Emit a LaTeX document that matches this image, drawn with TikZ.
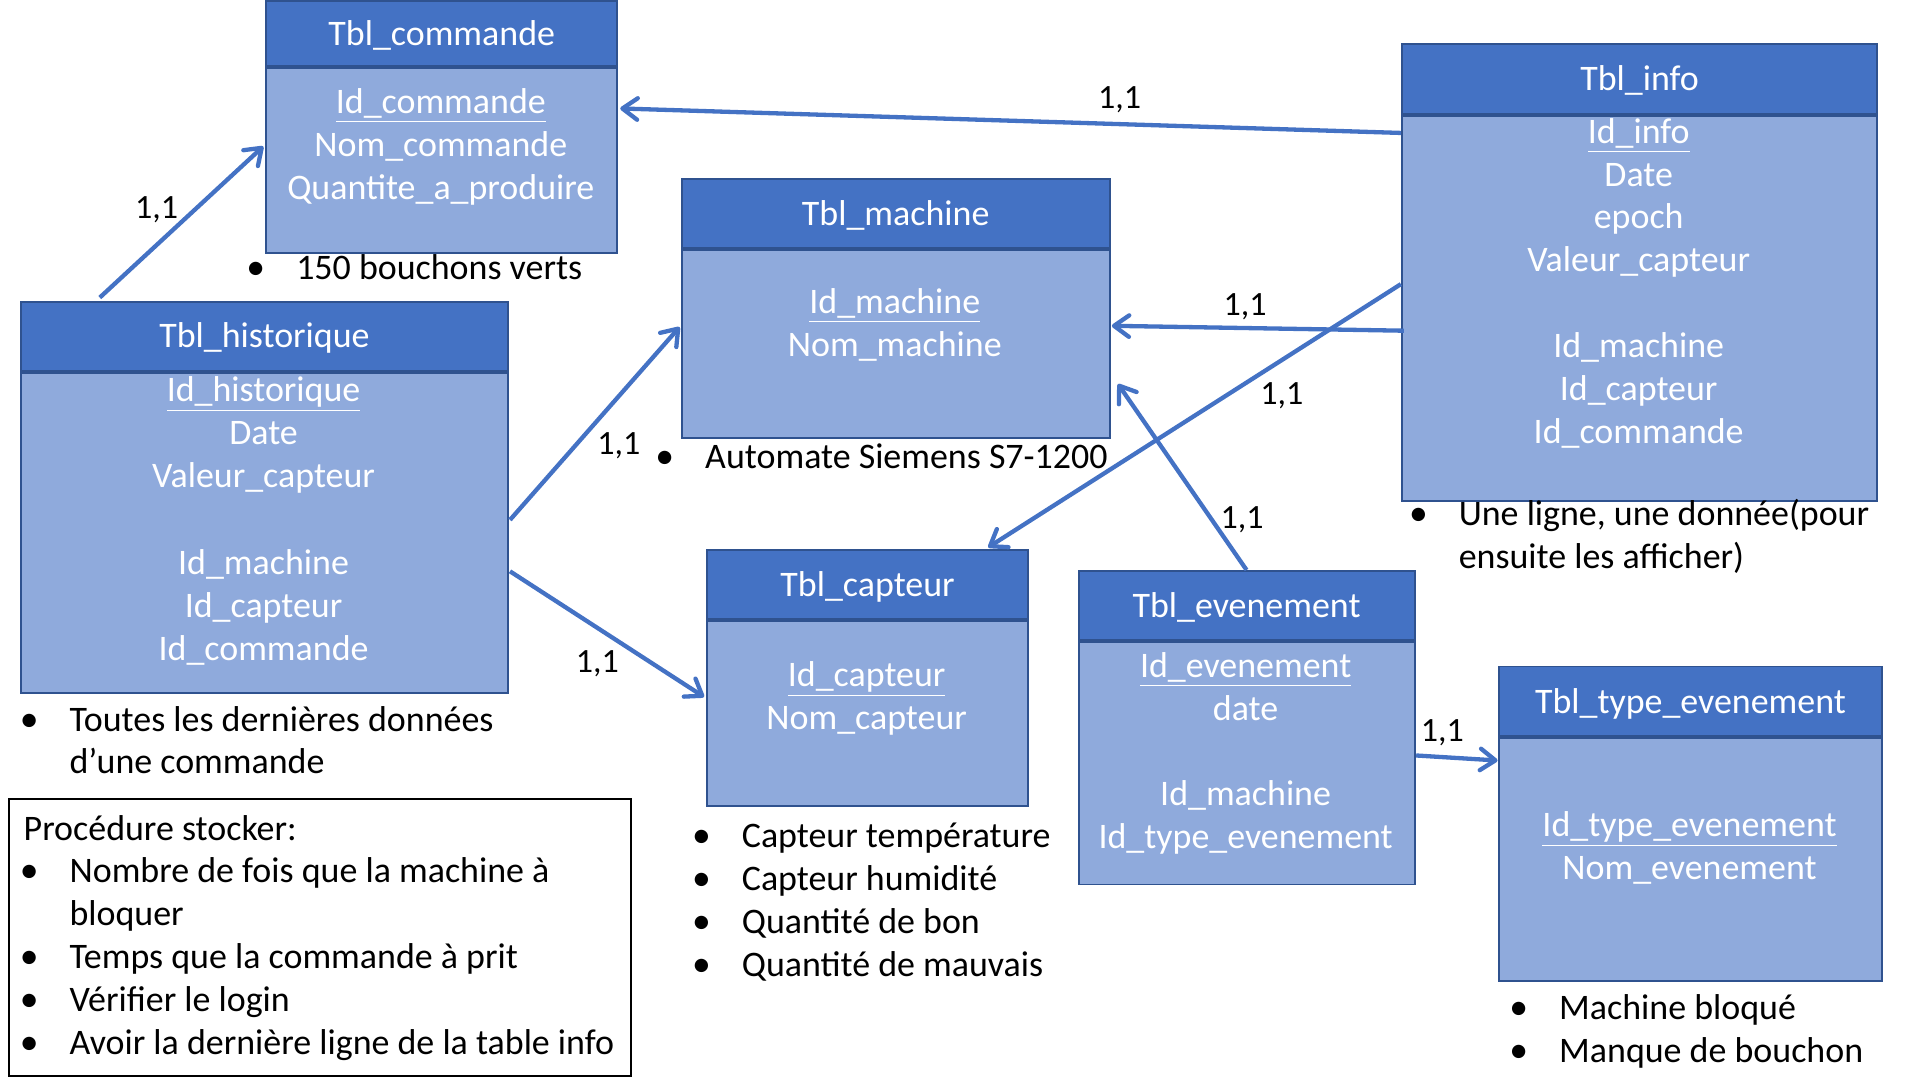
\documentclass[tikz,border=0pt]{standalone}
\usepackage{fontspec}
\setmainfont{Carlito}
\usetikzlibrary{arrows.meta,calc}

\definecolor{hdrblue}{HTML}{4472C4}
\definecolor{bodyblue}{HTML}{8FAADC}
\definecolor{edgeblue}{HTML}{2F528F}

\newcommand{\bul}{\makebox[0pt]{\fontsize{17.5}{19.9}\selectfont •}\hspace{0.66cm}}
\newcommand{\ind}{\hspace{0.66cm}}

\begin{document}
\begin{tikzpicture}[x=0.02cm, y=-0.02cm,
    every node/.style={inner sep=0pt, font=\fontsize{16.7}{19.9}\selectfont},
    hdr/.style={draw=edgeblue, fill=hdrblue, line width=0.9pt, text=white, anchor=north west,
        text height=12.4pt, text depth=1.5pt},
    tbl/.style={draw=edgeblue, fill=bodyblue, line width=0.9pt, anchor=north},
    row/.style={text=white, anchor=base},
    note/.style={anchor=base west},
    card/.style={anchor=base west, font=\fontsize{15.8}{19}\selectfont},
    link/.style={draw=hdrblue, line width=2pt, -{Straight Barb[length=7pt, width=10pt, round]}}]

  \useasboundingbox (0,0) rectangle (1568,882);

  % tables
  \node[hdr, minimum width=5.74cm, minimum height=1.06cm] (commande-h) at (216.5,0) {Tbl\_commande};
  \node[tbl, minimum width=5.74cm, minimum height=3.02cm] (commande) at (commande-h.south) {};
  \foreach \y/\t [count=\i] in {93/{\underline{Id\_commande}}, 128/Nom\_commande, 163/Quantite\_a\_produire}
    \node[row] (commande-\i) at (360,\y) {\t};

  \node[hdr, minimum width=7.95cm, minimum height=1.13cm] (hist-h) at (16.5,245.5) {Tbl\_historique};
  \node[tbl, minimum width=7.95cm, minimum height=5.23cm] (hist) at (hist-h.south) {};
  \foreach \y/\t [count=\i] in {328/{\underline{Id\_historique}}, 363/Date, 398/Valeur\_capteur,
      469/Id\_machine, 504/Id\_capteur, 539/Id\_commande}
    \node[row] (hist-\i) at (215.25,\y) {\t};

  \node[hdr, minimum width=6.99cm, minimum height=1.12cm] (machine-h) at (556,145.5) {Tbl\_machine};
  \node[tbl, minimum width=6.99cm, minimum height=3.08cm] (machine) at (machine-h.south) {};
  \foreach \y/\t [count=\i] in {256/{\underline{Id\_machine}}, 291/Nom\_machine}
    \node[row] (machine-\i) at (730.75,\y) {\t};

  \node[hdr, minimum width=7.77cm, minimum height=1.14cm] (info-h) at (1144,35) {Tbl\_info};
  \node[tbl, minimum width=7.77cm, minimum height=6.29cm] (info) at (info-h.south) {};
  \foreach \y/\t [count=\i] in {117/{\underline{Id\_info}}, 152/Date, 187/epoch, 222/Valeur\_capteur,
      292/Id\_machine, 327/Id\_capteur, 362/Id\_commande}
    \node[row] (info-\i) at (1338.25,\y) {\t};

  \node[hdr, minimum width=5.25cm, minimum height=1.14cm] (capteur-h) at (576.5,448) {Tbl\_capteur};
  \node[tbl, minimum width=5.25cm, minimum height=3.02cm] (capteur) at (capteur-h.south) {};
  \foreach \y/\t [count=\i] in {560.5/{\underline{Id\_capteur}}, 595.7/Nom\_capteur}
    \node[row] (capteur-\i) at (707.75,\y) {\t};

  \node[hdr, minimum width=5.49cm, minimum height=1.13cm] (evenement-h) at (880,465.5) {Tbl\_evenement};
  \node[tbl, minimum width=5.49cm, minimum height=3.96cm] (evenement) at (evenement-h.south) {};
  \foreach \y/\t [count=\i] in {553/{\underline{Id\_evenement}}, 588/date, 658/Id\_machine, 693/Id\_type\_evenement}
    \node[row] (evenement-\i) at (1017.25,\y) {\t};

  \node[hdr, minimum width=6.27cm, minimum height=1.14cm] (type-h) at (1223,543.5) {Tbl\_type\_evenement};
  \node[tbl, minimum width=6.27cm, minimum height=3.96cm] (type) at (type-h.south) {};
  \foreach \y/\t [count=\i] in {683/{\underline{Id\_type\_evenement}}, 718/Nom\_evenement}
    \node[row] (type-\i) at (1379.75,\y) {\t};

  % remarques
  \node[note] (commande-n) at (208.6,228) {\bul 150 bouchons verts};
  \node[note] (hist-n) at (23.5,597) {\begin{tabular}[t]{@{}l@{}}\bul Toutes les dernières données\\ \ind d’une commande\end{tabular}};
  \node[note] (machine-n) at (542.6,383) {\bul Automate Siemens S7-1200};
  \node[note] (info-n) at (1158,429.5) {\begin{tabular}[t]{@{}l@{}}\bul Une ligne, une donnée(pour\\ \ind ensuite les afficher)\end{tabular}};
  \node[note] (capteur-n) at (572.5,692.5) {\begin{tabular}[t]{@{}l@{}}\bul Capteur température\\ \bul Capteur humidité\\
      \bul Quantité de bon\\ \bul Quantité de mauvais\end{tabular}};
  \node[note] (type-n) at (1240,832.5) {\begin{tabular}[t]{@{}l@{}}\bul Machine bloqué\\ \bul Manque de bouchon\end{tabular}};

  \node[draw, line width=0.9pt, minimum width=10.17cm, minimum height=4.52cm, anchor=north west] (proc) at (6.5,652) {};
  \node[note] (proc-t) at (19,686) {Procédure stocker:};
  \node[note] (proc-l) at (23.5,721) {\begin{tabular}[t]{@{}l@{}}\bul Nombre de fois que la machine à\\ \ind bloquer\\
      \bul Temps que la commande à prit\\ \bul Vérifier le login\\ \bul Avoir la dernière ligne de la table info\end{tabular}};

  % liens
  \draw[link] ($(hist-h.north west)+(65,-2.5)$) -- ($(commande.north west)+(-1.5,65)$);
  \draw[link] ($(info.north west)+(0,15)$) -- ($(commande.north east)+(1.5,34)$);
  \draw[link] ($(info.north west)+(2.5,176.5)$) -- ($(machine.north east)+(1,63)$);
  \draw[link] ($(info.north west)+(0,138.5)$) -- ($(capteur-h.north west)+(230.5,-1)$);
  \draw[link] (evenement-h.north) -- ($(machine.north east)+(6,110.5)$);
  \draw[link] ($(hist.north east)+(1,121)$) -- ($(machine.north west)+(-1,64)$);
  \draw[link] ($(hist.north east)+(1,163)$) -- ($(capteur.north west)+(-1.5,62.6)$);
  \draw[link] ($(evenement.north east)+(0.5,93.4)$) -- ($(type.north west)+(0,19)$);

  \node[card] (c1) at (110,178.6) {1,1};
  \node[card] (c2) at (896.5,88.6) {1,1};
  \node[card] (c3) at (999,257.3) {1,1};
  \node[card] (c4) at (1029,330.4) {1,1};
  \node[card] (c5) at (996.5,431.7) {1,1};
  \node[card] (c6) at (487.5,371) {1,1};
  \node[card] (c7) at (470,549.3) {1,1};
  \node[card] (c8) at (1160,605.5) {1,1};
\end{tikzpicture}
\end{document}
